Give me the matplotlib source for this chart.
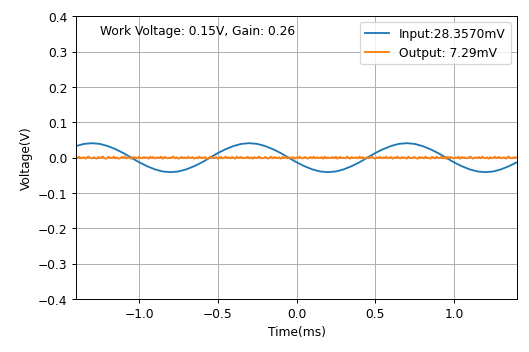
import matplotlib
matplotlib.use('Agg')
import matplotlib.pyplot as plt
import numpy as np

t_in = np.arange(-1.40, 1.4001, 0.05)
v_in = [0.033, 0.039, 0.041, 0.039, 0.033, 0.024, 0.013, 0.000, -0.013, -0.024,
        -0.033, -0.039, -0.041, -0.039, -0.033, -0.024, -0.013, 0.000, 0.013, 0.024,
        0.033, 0.039, 0.041, 0.039, 0.033, 0.024, 0.013, 0.000, -0.013, -0.024,
        -0.033, -0.039, -0.041, -0.039, -0.033, -0.024, -0.013, 0.000, 0.013, 0.024,
        0.033, 0.039, 0.041, 0.039, 0.033, 0.024, 0.013, 0.000, -0.013, -0.024,
        -0.033, -0.039, -0.041, -0.039, -0.033, -0.024, -0.013]

# output signal, sampled every 0.01 ms (small noise around zero)
t_out = np.arange(-1.40, 1.4001, 0.01)
v_out = [0.002, -0.001, 0.003, -0.002, 0.000, 0.001, -0.003, 0.002, 0.003, -0.001,
         -0.002, 0.001, 0.000, -0.003, 0.002, -0.001, 0.001, 0.003, -0.002, -0.003,
         0.001, 0.002, -0.001, 0.000, 0.003, -0.002, 0.001, -0.003, -0.001, 0.002,
         0.000, 0.003, -0.002, 0.001, -0.001, -0.003, 0.002, 0.000, 0.001, -0.002,
         0.003, -0.001, -0.002, 0.002, 0.000, 0.001, -0.003, 0.003, -0.001, 0.002,
         -0.002, 0.000, 0.001, -0.001, 0.003, -0.003, 0.002, 0.001, -0.002, 0.000,
         -0.001, 0.002, 0.003, -0.002, 0.001, -0.003, 0.000, 0.002, -0.001, 0.001,
         -0.002, 0.003, 0.000, -0.001, 0.002, -0.003, 0.001, -0.002, 0.003, 0.000,
         0.001, -0.001, 0.002, -0.003, -0.002, 0.003, 0.001, 0.000, -0.001, 0.002,
         -0.003, 0.001, 0.002, -0.002, 0.000, 0.003, -0.001, 0.001, -0.002, 0.002,
         0.000, -0.003, 0.003, -0.001, 0.001, 0.002, -0.002, 0.000, -0.001, 0.003,
         -0.002, 0.001, -0.003, 0.002, 0.000, -0.001, 0.003, 0.001, -0.002, -0.001,
         0.002, 0.000, -0.003, 0.001, 0.003, -0.002, 0.002, -0.001, 0.000, 0.001,
         -0.003, 0.002, -0.001, 0.003, -0.002, 0.000, 0.001, -0.002, 0.002, -0.003,
         0.001, 0.000, 0.003, -0.001, -0.002, 0.002, 0.001, -0.003, 0.000, 0.002,
         -0.001, 0.003, -0.002, 0.001, 0.000, -0.001, 0.002, -0.003, 0.003, -0.002,
         0.001, -0.001, 0.000, 0.002, -0.002, 0.003, -0.003, 0.001, 0.002, -0.001,
         0.000, -0.002, 0.003, 0.001, -0.003, 0.002, -0.001, 0.000, 0.001, -0.002,
         0.003, -0.001, 0.002, -0.003, 0.000, 0.001, -0.002, 0.002, 0.003, -0.001,
         -0.003, 0.001, 0.000, 0.002, -0.002, 0.001, -0.001, 0.003, -0.002, 0.000,
         0.002, -0.003, 0.001, -0.001, 0.003, 0.000, -0.002, 0.002, -0.001, 0.001,
         -0.003, 0.003, 0.000, -0.002, 0.001, 0.002, -0.001, -0.003, 0.002, 0.000,
         0.001, -0.002, 0.003, -0.001, 0.000, -0.003, 0.002, 0.001, -0.002, 0.003,
         -0.001, 0.000, 0.002, -0.002, 0.001, -0.003, 0.003, -0.001, 0.002, 0.000,
         -0.002, 0.001, -0.001, 0.003, -0.003, 0.002, 0.000, 0.001, -0.002, -0.001,
         0.003, 0.002, -0.003, 0.000, 0.001, -0.001, 0.002, -0.002, 0.003, 0.000,
         -0.001, 0.001, -0.003, 0.002, -0.002, 0.000, 0.003, -0.001, 0.001, 0.002,
         -0.002, 0.000, 0.001, -0.003, 0.002, 0.003, -0.001, -0.002, 0.001, 0.000,
         0.002]

input_label = 'Input:28.3570mV'
output_label = 'Output: 7.29mV'
note = 'Work Voltage: 0.15V, Gain: 0.26'

fig = plt.figure(figsize=(6, 4), dpi=529 / 6)
ax = fig.add_axes([0.144, 0.150, 0.833, 0.802])

ax.plot(t_in, v_in, color='#1f77b4', linewidth=1.5, label=input_label)
n = min(len(t_out), len(v_out))
ax.plot(t_out[:n], v_out[:n], color='#ff7f0e', linewidth=1.5, label=output_label)

ax.set_xlim(-1.4, 1.4)
ax.set_ylim(-0.4, 0.4)
ax.set_yticks(np.arange(-0.4, 0.41, 0.1))
ax.set_xticks([-1.0, -0.5, 0.0, 0.5, 1.0])
ax.grid(True)
ax.set_xlabel('Time(ms)')
ax.set_ylabel('Voltage(V)')
ax.text(-1.25, 0.35, note)
ax.legend(loc='upper right')

fig.savefig('out.png', dpi=529 / 6)
